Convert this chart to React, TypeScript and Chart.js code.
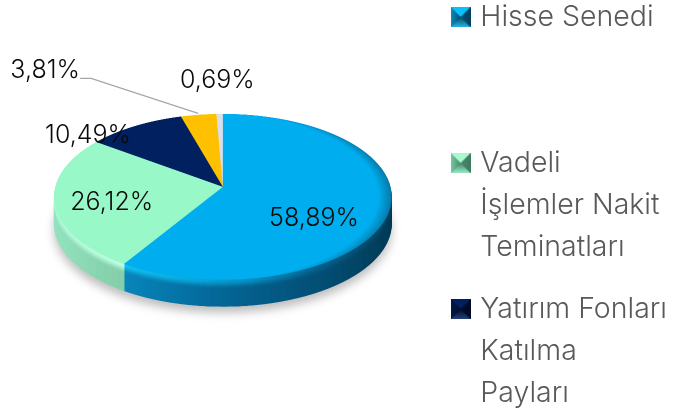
import React, { useEffect, useRef } from "react";
import { Chart, registerables } from "chart.js";

Chart.register(...registerables);

const categories = ["Hisse Senedi", "Vadeli İşlemler Nakit Teminatları", "Yatırım Fonları Katılma Payları", "Diğer", "Nakit"];
const shareValues = [58.89, 26.12, 10.49, 3.81, 0.69];
const shareLabels = ["58,89%", "26,12%", "10,49%", "3,81%", "0,69%"];
const legendLines = [
  ["Hisse Senedi", "", ""],
  ["Vadeli", "İşlemler Nakit", "Teminatları"],
  ["Yatırım Fonları", "Katılma", "Payları"],
];
const faceColors = ["#00ADEE", "#99F8C8", "#002060", "#FFC000", "#D9DEEA"];
const legendBevels = [
  ["#08c0fa", "#0a8cc4", "#03405f", "#28b4e4", "#04506f"],
  ["#a8f8d0", "#78cba4", "#3f7a60", "#9cecc8", "#4a8a6c"],
  ["#00205f", "#011a4c", "#000c26", "#24437e", "#000d2a"],
];
const labelNudges = [[9, 20], [-28, 8], [-89, -20], [-165, -78.5], [-4, -68]];
const FONT = "Inter";

const CANVAS_H = 470;
const PAGE_TOP = 17;
const APEX_X = 223, APEX_Y = 187, DEPTH = 27;
const PERSP = -0.1205, SCALE_Y = 81.8, SCALE_X = 167.8;
const SS = 2;

type RGB = [number, number, number];
const hex = (h: string): RGB => [1, 3, 5].map((i) => parseInt(h.slice(i, i + 2), 16)) as RGB;
const mix = (a: RGB, b: RGB, t: number) =>
  `rgb(${a.map((v, i) => Math.round(v + (b[i] - v) * t)).join(",")})`;

// side-wall shading: [u across the pie, rim colour, wall colour]
const wallStops: [number, string, string][][] = [
  [[-0.6, "#14c4f5", "#0a8ac0"], [-0.2, "#0cacdf", "#0672a5"], [0.15, "#0890c4", "#055f8c"], [0.55, "#055f8a", "#044e74"], [0.85, "#044c6e", "#03415f"], [1, "#03425f", "#023a56"]],
  [[-1, "#b0f6d8", "#96e4c2"], [-0.55, "#bcffe4", "#85cfaa"]],
  [[-1, "#0a2c70", "#001a4c"], [1, "#0a2c70", "#001a4c"]],
  [[-1, "#d8a400", "#c09000"], [1, "#d8a400", "#c09000"]],
  [[-1, "#c8ccd8", "#b0b4c0"], [1, "#c8ccd8", "#b0b4c0"]],
];

function bevelIcon(c: string[]) {
  const s = 20;
  const cv = document.createElement("canvas");
  cv.width = s; cv.height = s;
  const x = cv.getContext("2d")!;
  x.fillStyle = c[4];
  x.fillRect(0, 0, s, s);
  const tri = (pts: number[][], from: string, to: string, g: number[]) => {
    const gr = x.createLinearGradient(g[0], g[1], g[2], g[3]);
    gr.addColorStop(0, from); gr.addColorStop(1, to);
    x.fillStyle = gr;
    x.beginPath();
    pts.forEach((p, i) => (i ? x.lineTo(p[0], p[1]) : x.moveTo(p[0], p[1])));
    x.closePath(); x.fill();
  };
  const m = s / 2;
  tri([[0, 0], [s, 0], [m, m]], c[0], c[0], [0, 0, 0, m]);
  tri([[0, 0], [0, s], [m, m]], c[1], c[4], [0, 0, m, 0]);
  tri([[s, 0], [s, s], [m, m]], c[2], c[4], [s, 0, m, 0]);
  tri([[0, s], [s, s], [m, m]], c[3], c[4], [0, s, 0, m]);
  return cv;
}

const pie3d = {
  id: "pie3d",
  beforeDatasetsDraw(chart: any) {
    const ctx: CanvasRenderingContext2D = chart.ctx;
    const arcs: any[] = chart.getDatasetMeta(0).data;
    const first = arcs[0];
    const R: number = first.outerRadius;
    const cx: number = first.x, cy: number = first.y;

    const flat = document.createElement("canvas");
    flat.width = flat.height = Math.ceil(2 * R * SS);
    const fx = flat.getContext("2d")!;
    const warped = document.createElement("canvas");
    warped.width = 691 * SS; warped.height = 410 * SS;
    const wx = warped.getContext("2d")!;

    const project = (lx: number, ly: number) => {
      const u = (lx - cx) / R, v = (ly - cy) / R, d = 1 + PERSP * v;
      return { x: APEX_X + (SCALE_X * u) / d, y: APEX_Y + (SCALE_Y * v) / d };
    };

    const render = (fill: (i: number, c: CanvasRenderingContext2D) => any) => {
      fx.setTransform(1, 0, 0, 1, 0, 0);
      fx.clearRect(0, 0, flat.width, flat.height);
      fx.setTransform(SS, 0, 0, SS, (R - cx) * SS, (R - cy) * SS);
      for (let pass = 0; pass < 2; pass++) {
        arcs.forEach((el, i) => {
          const o = el.options;
          el.options = Object.assign(Object.create(o), { backgroundColor: fill(i, fx), borderWidth: 0 });
          fx.save(); el.draw(fx); fx.restore();
          el.options = o;
        });
      }
      wx.clearRect(0, 0, warped.width, warped.height);
      const top = project(cx, cy - R).y, bottom = project(cx, cy + R).y;
      for (let row = Math.floor(top * SS); row <= Math.ceil(bottom * SS); row++) {
        const t = (row + 0.5) / SS - APEX_Y;
        const v = t / (SCALE_Y - PERSP * t);
        if (v < -1 || v > 1) continue;
        const d = 1 + PERSP * v;
        const half = (SCALE_X / d) * SS;
        const src = ((v + 1) * flat.height) / 2;
        wx.drawImage(flat, 0, Math.min(src, flat.height - 1), flat.width, 1, APEX_X * SS - half, row, half * 2, 1);
      }
      return warped;
    };

    ctx.save();
    ctx.translate(0, PAGE_TOP);

    // soft ground shadow
    render(() => "#000");
    ctx.save();
    ctx.filter = "blur(5px)";
    ctx.globalAlpha = 0.26;
    ctx.drawImage(warped, 0, DEPTH + 6, 691, 410);
    ctx.restore();

    // side wall, from the bottom layer up to the rim
    for (let d = DEPTH; d >= 1; d--) {
      const t = Math.min(1, Math.max(0, (d - 1) / 9));
      const shade = t * t * (3 - 2 * t);
      render((i, c) => {
        const g = c.createLinearGradient(cx - R, 0, cx + R, 0);
        wallStops[i].forEach(([u, rim, wall]) => g.addColorStop((u + 1) / 2, mix(hex(rim), hex(wall), shade)));
        return g;
      });
      ctx.drawImage(warped, 0, d, 691, 410);
    }

    // top face; the largest slice darkens softly towards its right rim
    render((i, c) => {
      if (i !== 0) return faceColors[i];
      const g = c.createRadialGradient(cx - 0.1 * R, cy, 0, cx - 0.1 * R, cy, 1.1 * R);
      g.addColorStop(0, faceColors[0]);
      g.addColorStop(0.93, faceColors[0]);
      g.addColorStop(1, "#0679a8");
      return g;
    });
    ctx.drawImage(warped, 0, 0, 691, 410);

    // leader line of the 3,81% label
    const p = arcs.map((el) => {
      const c = el.getCenterPoint();
      return project(c.x, c.y);
    });
    const lx = p[3].x + labelNudges[3][0], ly = p[3].y + labelNudges[3][1];
    ctx.strokeStyle = "#A6A6A6";
    ctx.lineWidth = 1.2;
    ctx.beginPath();
    ctx.moveTo(lx + 35, ly + 8);
    ctx.lineTo(lx + 46, ly + 8);
    ctx.lineTo(lx + 153, ly + 43);
    ctx.stroke();

    // value labels
    ctx.fillStyle = "#0A0A0A";
    ctx.font = `300 25px ${FONT}`;
    ctx.textAlign = "center";
    ctx.textBaseline = "middle";
    shareLabels.forEach((s, i) => {
      ctx.fillText(s, p[i].x + labelNudges[i][0], p[i].y + labelNudges[i][1]);
    });
    ctx.restore();
    return false;
  },
};

export default function App() {
  const ref = useRef<HTMLCanvasElement>(null);
  useEffect(() => {
    const icons = legendBevels.map(bevelIcon);
    const chart = new Chart(ref.current!, {
      type: "pie",
      data: {
        labels: categories,
        datasets: [{ data: shareValues, backgroundColor: faceColors, borderWidth: 0 }],
      },
      options: {
        animation: false,
        responsive: false,
        layout: { padding: { right: 14 } },
        events: [],
        plugins: {
          tooltip: { enabled: false },
          legend: {
            position: "right",
            align: "start",
            labels: {
              usePointStyle: true,
              boxWidth: 11,
              pointStyleWidth: 11,
              padding: 20,
              color: "#595959",
              font: { family: FONT, size: 28.5, weight: "300", lineHeight: 42 / 28.5 },
              generateLabels: () =>
                legendLines.map((text, i) => ({
                  text,
                  index: i,
                  datasetIndex: 0,
                  hidden: false,
                  pointStyle: icons[i],
                  rotation: 0,
                  fontColor: "#595959",
                  fillStyle: faceColors[i],
                  strokeStyle: faceColors[i],
                  lineWidth: 0,
                })),
            },
          },
        },
      } as any,
      plugins: [pie3d as any],
    });
    return () => chart.destroy();
  }, []);
  return (
    <div style={{ position: "fixed", left: 0, top: 0, width: 691, height: 410, overflow: "hidden", background: "#fff" }}>
      <canvas
        ref={ref}
        width={691}
        height={CANVAS_H}
        style={{ position: "absolute", left: 0, top: -PAGE_TOP, width: 691, height: CANVAS_H, display: "block" }}
      />
    </div>
  );
}
